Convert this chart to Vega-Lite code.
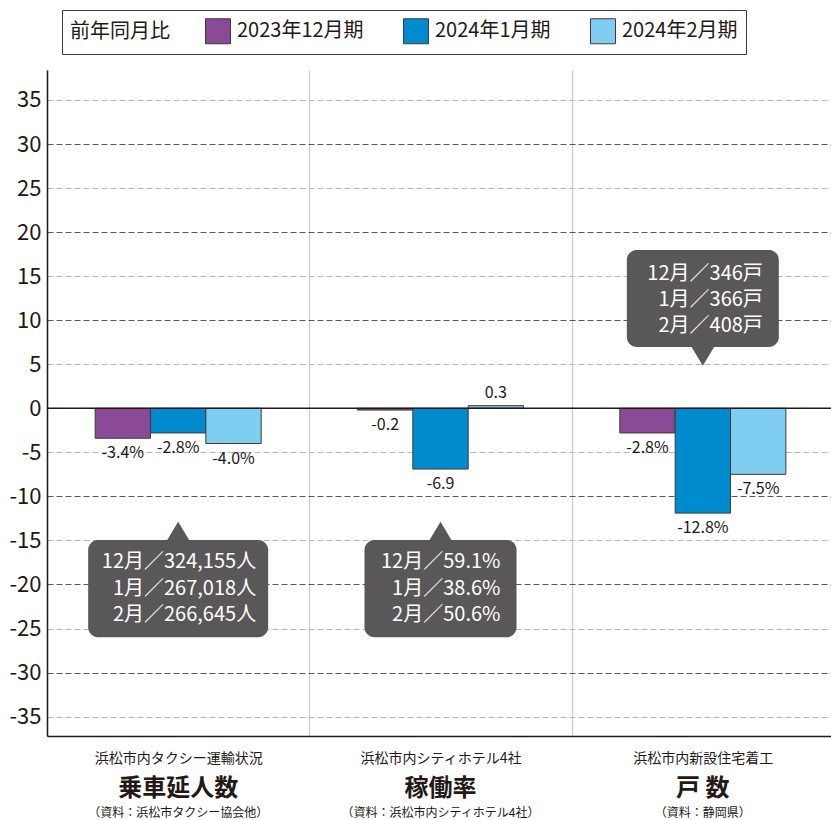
{
  "$schema": "https://vega.github.io/schema/vega-lite/v6.json",
  "width": 784,
  "height": 666,
  "autosize": {"type": "none"},
  "padding": {"left": 47, "top": 70, "right": 0, "bottom": 84},
  "background": "white",
  "config": {
    "view": {"stroke": null},
    "font": "Noto Sans CJK JP"
  },
  "datasets": {
    "bars": [
      {"cat": "乗車延人数", "series": "2023年12月期", "value": -3.4, "label": "-3.4%"},
      {"cat": "乗車延人数", "series": "2024年1月期", "value": -2.8, "label": "-2.8%"},
      {"cat": "乗車延人数", "series": "2024年2月期", "value": -4.0, "label": "-4.0%"},
      {"cat": "稼働率", "series": "2023年12月期", "value": -0.2, "label": "-0.2"},
      {"cat": "稼働率", "series": "2024年1月期", "value": -6.9, "label": "-6.9"},
      {"cat": "稼働率", "series": "2024年2月期", "value": 0.3, "label": "0.3"},
      {"cat": "戸 数", "series": "2023年12月期", "value": -2.8, "label": "-2.8%"},
      {"cat": "戸 数", "series": "2024年1月期", "value": -11.9, "label": "-12.8%"},
      {"cat": "戸 数", "series": "2024年2月期", "value": -7.5, "label": "-7.5%"}
    ],
    "notes": [
      {"cat": "乗車延人数", "top": -14.95, "bottom": -26.0, "tip": -12.87, "line1": -17.5, "dir": "up", "text": "12月／324,155人\n1月／267,018人\n2月／266,645人"},
      {"cat": "稼働率", "top": -14.95, "bottom": -26.0, "tip": -12.87, "line1": -17.5, "dir": "up", "text": "12月／59.1%\n1月／38.6%\n2月／50.6%"},
      {"cat": "戸 数", "top": 17.97, "bottom": 6.96, "tip": 4.84, "line1": 15.3, "dir": "down", "text": "12月／346戸\n1月／366戸\n2月／408戸"}
    ],
    "zero": [{"level": 0}]
  },
  "resolve": {"axis": {"x": "independent"}},
  "layer": [
    {
      "data": {"name": "bars"},
      "mark": {"type": "bar", "stroke": "#3e3a39", "strokeWidth": 1},
      "encoding": {
        "x": {
          "field": "cat", "type": "nominal",
          "scale": {"domain": ["乗車延人数", "稼働率", "戸 数"], "range": [0, 787], "paddingInner": 0, "paddingOuter": 0},
          "axis": {
            "title": null, "orient": "bottom", "labelAngle": 0,
            "labelExpr": "datum.value === '乗車延人数' ? '浜松市内タクシー運輸状況' : datum.value === '稼働率' ? '浜松市内シティホテル4社' : datum.value === '戸 数' ? '浜松市内新設住宅着工' : ''",
            "labelFontSize": 14, "labelColor": "#231815", "labelPadding": 22, "labelBaseline": "middle",
            "labelLimit": 400, "labelOverlap": false,
            "ticks": false, "domain": true, "domainColor": "#231815", "domainWidth": 1.5,
            "grid": true, "tickBand": "extent", "gridColor": "#c9caca", "gridWidth": 1.2
          }
        },
        "xOffset": {
          "field": "series", "type": "nominal",
          "scale": {"domain": ["2023年12月期", "2024年1月期", "2024年2月期"], "paddingInner": 0, "paddingOuter": 0.87}
        },
        "y": {
          "field": "value", "type": "quantitative",
          "scale": {"domain": [-37.2, 38.4], "nice": false, "zero": false},
          "axis": {
            "title": null,
            "values": [-35, -30, -25, -20, -15, -10, -5, 0, 5, 10, 15, 20, 25, 30, 35],
            "labelExpr": "'' + datum.value",
            "labelFontSize": 22, "labelColor": "#231815", "labelPadding": 6,
            "ticks": false, "domain": true, "domainColor": "#231815", "domainWidth": 1.5,
            "grid": true,
            "gridColor": {"condition": {"test": "datum.value % 10 === 0", "value": "#595757"}, "value": "#b5b5b5"},
            "gridDash": [6, 3],
            "gridWidth": 1.2
          }
        },
        "color": {
          "field": "series", "type": "nominal",
          "scale": {"domain": ["2023年12月期", "2024年1月期", "2024年2月期"], "range": ["#8b4a96", "#008bcf", "#7fcdf1"]},
          "legend": {
            "title": "前年同月比", "orient": "none", "legendX": 15, "legendY": -60,
            "direction": "horizontal", "titleOrient": "left",
            "titleFontSize": 20, "titleFontWeight": "normal", "titleColor": "#231815", "titlePadding": 35,
            "labelFontSize": 20, "labelColor": "#231815", "labelOffset": 6, "columnPadding": 37,
            "symbolType": "square", "symbolSize": 625, "symbolStrokeColor": "#3e3a39", "symbolStrokeWidth": 1,
            "strokeColor": "#3e3a39", "padding": 8, "fillColor": "white"
          }
        }
      }
    },
    {
      "data": {"name": "zero"},
      "mark": {"type": "rule", "color": "#231815", "strokeWidth": 1.5},
      "encoding": {
        "y": {"field": "level", "type": "quantitative", "axis": {
            "title": null,
            "values": [-35, -30, -25, -20, -15, -10, -5, 0, 5, 10, 15, 20, 25, 30, 35],
            "labelExpr": "'' + datum.value",
            "labelFontSize": 22, "labelColor": "#231815", "labelPadding": 6,
            "ticks": false, "domain": true, "domainColor": "#231815", "domainWidth": 1.5,
            "grid": true,
            "gridColor": {"condition": {"test": "datum.value % 10 === 0", "value": "#595757"}, "value": "#b5b5b5"},
            "gridDash": [6, 3],
            "gridWidth": 1.2
          }}
      }
    },
    {
      "data": {"name": "bars"},
      "transform": [{"filter": "datum.value < 0"}],
      "mark": {"type": "text", "baseline": "top", "dy": 7, "fontSize": 16, "color": "#231815"},
      "encoding": {
        "x": {
          "field": "cat", "type": "nominal",
          "axis": {
            "title": null, "orient": "bottom", "labelAngle": 0,
            "labelExpr": "datum.value === '乗車延人数' || datum.value === '稼働率' || datum.value === '戸 数' ? datum.value : ''",
            "labelFontSize": 24, "labelFontWeight": "bold", "labelColor": "#231815",
            "labelPadding": 52, "labelBaseline": "middle", "labelLimit": 400, "labelOverlap": false,
            "ticks": false, "domain": false, "grid": false
          }
        },
        "xOffset": {"field": "series", "type": "nominal"},
        "y": {"field": "value", "type": "quantitative", "axis": {
            "title": null,
            "values": [-35, -30, -25, -20, -15, -10, -5, 0, 5, 10, 15, 20, 25, 30, 35],
            "labelExpr": "'' + datum.value",
            "labelFontSize": 22, "labelColor": "#231815", "labelPadding": 6,
            "ticks": false, "domain": true, "domainColor": "#231815", "domainWidth": 1.5,
            "grid": true,
            "gridColor": {"condition": {"test": "datum.value % 10 === 0", "value": "#595757"}, "value": "#b5b5b5"},
            "gridDash": [6, 3],
            "gridWidth": 1.2
          }},
        "text": {"field": "label"}
      }
    },
    {
      "data": {"name": "bars"},
      "transform": [{"filter": "datum.value >= 0"}],
      "mark": {"type": "text", "baseline": "bottom", "dy": -5, "fontSize": 16, "color": "#231815"},
      "encoding": {
        "x": {"field": "cat", "type": "nominal", "axis": null},
        "xOffset": {"field": "series", "type": "nominal"},
        "y": {"field": "value", "type": "quantitative", "axis": {
            "title": null,
            "values": [-35, -30, -25, -20, -15, -10, -5, 0, 5, 10, 15, 20, 25, 30, 35],
            "labelExpr": "'' + datum.value",
            "labelFontSize": 22, "labelColor": "#231815", "labelPadding": 6,
            "ticks": false, "domain": true, "domainColor": "#231815", "domainWidth": 1.5,
            "grid": true,
            "gridColor": {"condition": {"test": "datum.value % 10 === 0", "value": "#595757"}, "value": "#b5b5b5"},
            "gridDash": [6, 3],
            "gridWidth": 1.2
          }},
        "text": {"field": "label"}
      }
    },
    {
      "data": {"name": "notes"},
      "transform": [{"filter": "datum.cat === '乗車延人数'"}],
      "mark": {"type": "bar", "width": 180, "cornerRadius": 10, "color": "#595757"},
      "encoding": {
        "x": {
          "field": "cat", "type": "nominal",
          "axis": {
            "title": null, "orient": "bottom", "labelAngle": 0,
            "labelExpr": "datum.value === '乗車延人数' ? '（資料：浜松市タクシー協会他）' : datum.value === '稼働率' ? '（資料：浜松市内シティホテル4社）' : datum.value === '戸 数' ? '（資料：静岡県）' : ''",
            "labelFontSize": 12, "labelColor": "#231815", "labelPadding": 76, "labelBaseline": "middle",
            "labelLimit": 400, "labelOverlap": false,
            "ticks": false, "domain": false, "grid": false
          }
        },
        "y": {"field": "top", "type": "quantitative", "axis": {
            "title": null,
            "values": [-35, -30, -25, -20, -15, -10, -5, 0, 5, 10, 15, 20, 25, 30, 35],
            "labelExpr": "'' + datum.value",
            "labelFontSize": 22, "labelColor": "#231815", "labelPadding": 6,
            "ticks": false, "domain": true, "domainColor": "#231815", "domainWidth": 1.5,
            "grid": true,
            "gridColor": {"condition": {"test": "datum.value % 10 === 0", "value": "#595757"}, "value": "#b5b5b5"},
            "gridDash": [6, 3],
            "gridWidth": 1.2
          }},
        "y2": {"field": "bottom"}
      }
    },
    {
      "data": {"name": "notes"},
      "transform": [{"filter": "datum.cat !== '乗車延人数'"}],
      "mark": {"type": "bar", "width": 152, "cornerRadius": 10, "color": "#595757"},
      "encoding": {
        "x": {"field": "cat", "type": "nominal", "axis": null},
        "y": {"field": "top", "type": "quantitative", "axis": {
            "title": null,
            "values": [-35, -30, -25, -20, -15, -10, -5, 0, 5, 10, 15, 20, 25, 30, 35],
            "labelExpr": "'' + datum.value",
            "labelFontSize": 22, "labelColor": "#231815", "labelPadding": 6,
            "ticks": false, "domain": true, "domainColor": "#231815", "domainWidth": 1.5,
            "grid": true,
            "gridColor": {"condition": {"test": "datum.value % 10 === 0", "value": "#595757"}, "value": "#b5b5b5"},
            "gridDash": [6, 3],
            "gridWidth": 1.2
          }},
        "y2": {"field": "bottom"}
      }
    },
    {
      "data": {"name": "notes"},
      "mark": {"type": "point", "filled": true, "size": 1600, "color": "#595757", "opacity": 1, "strokeWidth": 0},
      "encoding": {
        "x": {"field": "cat", "type": "nominal", "axis": null},
        "y": {"field": "tip", "type": "quantitative", "axis": {
            "title": null,
            "values": [-35, -30, -25, -20, -15, -10, -5, 0, 5, 10, 15, 20, 25, 30, 35],
            "labelExpr": "'' + datum.value",
            "labelFontSize": 22, "labelColor": "#231815", "labelPadding": 6,
            "ticks": false, "domain": true, "domainColor": "#231815", "domainWidth": 1.5,
            "grid": true,
            "gridColor": {"condition": {"test": "datum.value % 10 === 0", "value": "#595757"}, "value": "#b5b5b5"},
            "gridDash": [6, 3],
            "gridWidth": 1.2
          }},
        "shape": {
          "field": "dir", "type": "nominal",
          "scale": {"domain": ["up", "down"], "range": ["M-0.6,1L0,0L0.6,1Z", "M-0.6,-1L0,0L0.6,-1Z"]},
          "legend": null
        }
      }
    },
    {
      "data": {"name": "notes"},
      "transform": [{"filter": "datum.cat === '乗車延人数'"}],
      "mark": {"type": "text", "align": "right", "baseline": "middle", "lineBreak": "\n", "lineHeight": 26.3, "fontSize": 20, "color": "white", "dx": 78},
      "encoding": {
        "x": {"field": "cat", "type": "nominal", "axis": null},
        "y": {"field": "line1", "type": "quantitative", "axis": {
            "title": null,
            "values": [-35, -30, -25, -20, -15, -10, -5, 0, 5, 10, 15, 20, 25, 30, 35],
            "labelExpr": "'' + datum.value",
            "labelFontSize": 22, "labelColor": "#231815", "labelPadding": 6,
            "ticks": false, "domain": true, "domainColor": "#231815", "domainWidth": 1.5,
            "grid": true,
            "gridColor": {"condition": {"test": "datum.value % 10 === 0", "value": "#595757"}, "value": "#b5b5b5"},
            "gridDash": [6, 3],
            "gridWidth": 1.2
          }},
        "text": {"field": "text"}
      }
    },
    {
      "data": {"name": "notes"},
      "transform": [{"filter": "datum.cat !== '乗車延人数'"}],
      "mark": {"type": "text", "align": "right", "baseline": "middle", "lineBreak": "\n", "lineHeight": 26.3, "fontSize": 20, "color": "white", "dx": 60},
      "encoding": {
        "x": {"field": "cat", "type": "nominal", "axis": null},
        "y": {"field": "line1", "type": "quantitative", "axis": {
            "title": null,
            "values": [-35, -30, -25, -20, -15, -10, -5, 0, 5, 10, 15, 20, 25, 30, 35],
            "labelExpr": "'' + datum.value",
            "labelFontSize": 22, "labelColor": "#231815", "labelPadding": 6,
            "ticks": false, "domain": true, "domainColor": "#231815", "domainWidth": 1.5,
            "grid": true,
            "gridColor": {"condition": {"test": "datum.value % 10 === 0", "value": "#595757"}, "value": "#b5b5b5"},
            "gridDash": [6, 3],
            "gridWidth": 1.2
          }},
        "text": {"field": "text"}
      }
    }
  ]
}
